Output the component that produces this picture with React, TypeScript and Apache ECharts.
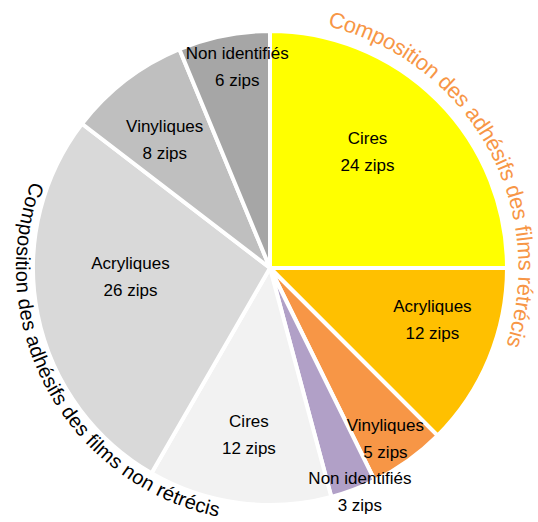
import React, { useEffect, useRef } from 'react';
import * as echarts from 'echarts';

// ---- data ----
const categories = ['Cires', 'Acryliques', 'Vinyliques', 'Non identifiés'];
const shrunkValues = [24, 12, 5, 3];
const unshrunkValues = [12, 26, 8, 6];
const unit = 'zips';
const shrunkTitle = 'Composition des adhésifs des films rétrécis';
const unshrunkTitle = 'Composition des adhésifs des films non rétrécis';

// ---- styles ----
const shrunkColors = ['#FFFF00', '#FFC000', '#F79646', '#B1A0C7'];
const unshrunkColors = ['#F2F2F2', '#D9D9D9', '#BFBFBF', '#A6A6A6'];
const labelRadius = [0.64, 0.72, 0.87, 1.02, 0.71, 0.59, 0.7, 0.86];
const labelShift = [-5, -4.6, 1.6, -1.2, -0.3, 7.5, -1.9, 2];

const W = 538;
const H = 522;
const CX = 270;
const CY = 268;
const R = 237;
const FONT = '"Liberation Sans", Arial, sans-serif';

function arcText(
  text: string,
  r: number,
  startDeg: number,
  dir: number,
  fontSize: number,
  color: string,
  topsOut: boolean
) {
  const canvas = document.createElement('canvas');
  const ctx = canvas.getContext('2d') as CanvasRenderingContext2D;
  ctx.font = `${fontSize}px ${FONT}`;
  const els: any[] = [];
  let s = 0;
  for (const ch of text) {
    const w = ctx.measureText(ch).width;
    const sc = s + w / 2;
    const theta = (startDeg * Math.PI) / 180 + (dir * sc) / r;
    if (ch !== ' ') {
      els.push({
        type: 'text',
        x: CX + r * Math.sin(theta),
        y: CY - r * Math.cos(theta),
        rotation: topsOut ? -theta : Math.PI - theta,
        silent: true,
        z: 100,
        style: {
          text: ch,
          x: 0,
          y: 0,
          align: 'center',
          verticalAlign: 'middle',
          fontSize,
          fontFamily: FONT,
          fill: color,
        },
      });
    }
    s += w;
  }
  return els;
}

export default function App() {
  const ref = useRef<HTMLDivElement>(null);

  useEffect(() => {
    document.body.style.margin = '0';
    if (!ref.current) return;
    const chart = echarts.init(ref.current, undefined, { renderer: 'svg' });

    const values = [...shrunkValues, ...unshrunkValues];
    const colors = [...shrunkColors, ...unshrunkColors];
    const names = [...categories, ...categories];
    const total = values.reduce((a, b) => a + b, 0);
    const data = values.map((v, i) => ({
      value: v,
      name: names[i],
      itemStyle: { color: colors[i] },
    }));

    chart.setOption({
      animation: false,
      backgroundColor: '#ffffff',
      series: [
        {
          type: 'pie',
          center: [CX, CY],
          radius: R,
          startAngle: 90,
          clockwise: true,
          avoidLabelOverlap: false,
          data,
          itemStyle: { borderColor: '#ffffff', borderWidth: 4 },
          label: {
            show: true,
            position: 'inside',
            formatter: (p: any) => `${p.name}\n${p.value} ${unit}`,
            color: '#000000',
            fontSize: 17,
            fontFamily: FONT,
            lineHeight: 27,
          },
          labelLine: { show: false },
          emphasis: { disabled: true },
          labelLayout: (p: any) => {
            const i = p.dataIndex;
            const before = values.slice(0, i).reduce((a, b) => a + b, 0);
            const mid = ((before + values[i] / 2) / total) * 360 + labelShift[i];
            const rad = (mid * Math.PI) / 180;
            const d = R * labelRadius[i];
            return {
              x: CX + d * Math.sin(rad),
              y: CY - d * Math.cos(rad),
              align: 'center',
              verticalAlign: 'middle',
            };
          },
        },
      ],
      graphic: [
        ...arcText(shrunkTitle, 256, 13.4, 1, 22, '#F79646', true),
        ...arcText(unshrunkTitle, 247, 290, -1, 20, '#000000', false),
      ],
    });

    return () => chart.dispose();
  }, []);

  return <div ref={ref} style={{ width: W, height: H }} />;
}
